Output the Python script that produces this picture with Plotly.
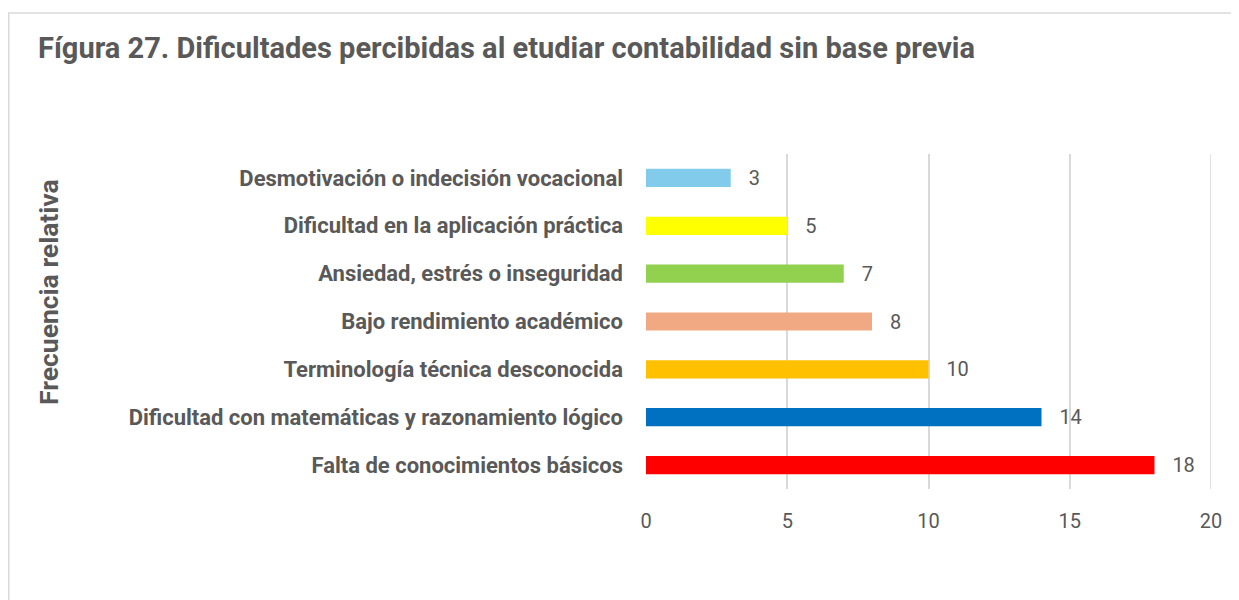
import plotly.graph_objects as go

categories = [
    "Falta de conocimientos básicos",
    "Dificultad con matemáticas y razonamiento lógico",
    "Terminología técnica desconocida",
    "Bajo rendimiento académico",
    "Ansiedad, estrés o inseguridad",
    "Dificultad en la aplicación práctica",
    "Desmotivación o indecisión vocacional",
]
values = [18, 14, 10, 8, 7, 5, 3]
colors = ["#FF0000", "#0070C0", "#FFC000", "#F1A983", "#92D050", "#FFFF00", "#83CBEB"]
x_ticks = [0, 5, 10, 15, 20]

OFF = 8  # default page body margin
W, H = 1239 - OFF, 600 - OFF
ML, MR, MT, MB = 646 - OFF, 28, 154 - OFF, 111
FONT = "Roboto, Arial"
GREY = "#595959"
GRID = "#D9D9D9"
PAD = "\u00a0\u00a0\u00a0"

fig = go.Figure(go.Bar(
    y=categories, x=values, orientation="h",
    marker=dict(color=colors, line=dict(width=0)),
    width=0.38,
    text=[PAD + str(v) for v in values], textposition="outside",
    textfont=dict(family=FONT, size=20, color=GREY),
    constraintext="none",
    cliponaxis=False,
))

pw = W - ML - MR
ph = H - MT - MB
def px_x(p):
    return (p - OFF - ML) / pw
def px_y(p):
    return 1 - (p - OFF - MT) / ph

shapes = [
    dict(type="line", xref="paper", yref="paper", x0=px_x(OFF), x1=px_x(1250),
         y0=px_y(13), y1=px_y(13), line=dict(color=GRID, width=1.5)),
    dict(type="line", xref="paper", yref="paper", x0=px_x(OFF + 0.75), x1=px_x(OFF + 0.75),
         y0=px_y(13), y1=px_y(610), line=dict(color=GRID, width=1.5)),
    dict(type="line", xref="x", yref="paper", x0=x_ticks[-1], x1=x_ticks[-1],
         y0=0, y1=1, layer="below", line=dict(color=GRID, width=1.5)),
]

fig.update_layout(
    width=W, height=H,
    margin=dict(l=ML, r=MR, t=MT, b=MB),
    paper_bgcolor="white", plot_bgcolor="white",
    showlegend=False,
    bargap=0.6,
    title=dict(text="<b>Fígura 27. Dificultades percibidas al etudiar contabilidad sin base previa</b>",
               x=(38 - OFF) / W, xanchor="left", y=1 - (48 - OFF) / H, yanchor="middle",
               font=dict(family=FONT, size=29, color=GREY)),
    xaxis=dict(range=[0, 20], tickvals=x_ticks, showgrid=True, gridcolor=GRID, gridwidth=1.5,
               zeroline=False, showline=False,
               tickfont=dict(family=FONT, size=20, color=GREY), ticklabelstandoff=18),
    yaxis=dict(categoryorder="array", categoryarray=categories, showgrid=False,
               zeroline=False, showline=False, ticks="",
               tickfont=dict(family=FONT, size=22, color=GREY, weight="bold"),
               ticklabelstandoff=22),
    shapes=shapes,
    annotations=[
        dict(text="<b>Frecuencia relativa</b>", textangle=-90, xref="paper", yref="paper",
             x=px_x(48), y=px_y(292), xanchor="center", yanchor="middle", showarrow=False,
             font=dict(family=FONT, size=26.5, color=GREY)),
    ],
)

fig.write_html("out.html")
